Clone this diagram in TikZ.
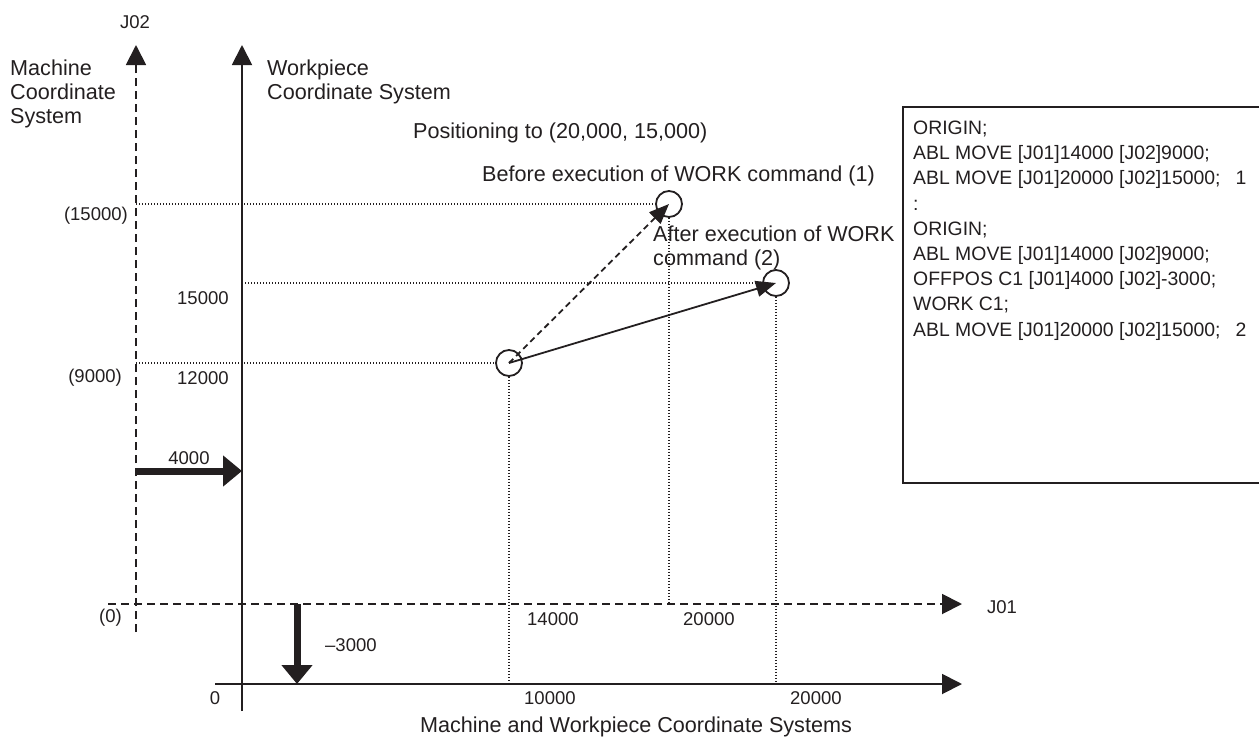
\documentclass[tikz,border=0pt]{standalone}
\usepackage{fontspec}
\setmainfont{Liberation Sans}
\usetikzlibrary{arrows.meta}
\definecolor{ink}{HTML}{231F20}
\begin{document}
\begin{tikzpicture}[x=1pt,y=-1pt,
  lbl/.style={font=\fontsize{21.6}{24}\selectfont, text=ink, inner sep=0pt},
  num/.style={font=\fontsize{18.5}{22}\selectfont, text=ink, inner sep=0pt},
  code/.style={font=\fontsize{19.4}{22}\selectfont, text=ink, inner sep=0pt, anchor=base west},
  axis/.style={line width=1.9pt, draw=ink, -{Triangle[length=20pt,width=20pt]}},
  maxis/.style={axis, dash pattern=on 8pt off 5pt},
  guide/.style={line width=1.1pt, draw=ink, dash pattern=on 1.1pt off 1.9pt},
  shiftarrow/.style={line width=7pt, draw=ink, -{Triangle[length=19pt,width=30pt]}},
  posc/.style={circle, draw=ink, line width=1.8pt, minimum size=26pt, inner sep=0pt},
  move/.style={line width=1.8pt, draw=ink, -{Triangle[length=20pt,width=16pt]}}]
\useasboundingbox (0,0) rectangle (1259,737);

% position circles
\node[posc] (p0) at (509,363) {};
\node[posc] (p1) at (669,204) {};
\node[posc] (p2) at (776,283) {};

% guide lines
\coordinate (g1) at (136,204);
\coordinate (g2) at (242,283);
\coordinate (g3) at (136,363);
\coordinate (g4) at (509,684);
\coordinate (g5) at (669,604);
\coordinate (g6) at (776,684);
\draw[guide] (g1) -- (p1.west);
\draw[guide] (g2) -- (p2.west);
\draw[guide] (g3) -- (p0.west);
\draw[guide] (p0.south) -- (g4);
\draw[guide] (p1.south) -- (g5);
\draw[guide] (p2.south) -- (g6);

% axes
\coordinate (mya) at (136,632); \coordinate (myb) at (136,45);
\coordinate (wya) at (242,711); \coordinate (wyb) at (242,45);
\coordinate (mxa) at (108,604); \coordinate (mxb) at (962,604);
\coordinate (wxa) at (215,684); \coordinate (wxb) at (962,684);
\draw[maxis] (mya) -- (myb);
\draw[axis] (wya) -- (wyb);
\draw[maxis] (mxa) -- (mxb);
\draw[axis] (wxa) -- (wxb);

% offset arrows
\coordinate (s1a) at (136,471); \coordinate (s1b) at (242,471);
\coordinate (s2a) at (297,604); \coordinate (s2b) at (297,684);
\draw[shiftarrow] (s1a) -- (s1b);
\draw[shiftarrow] (s2a) -- (s2b);

% moves
\draw[move, dash pattern=on 6pt off 4pt] (p0.center) -- (p1.center);
\draw[move] (p0.center) -- (p2.center);

% labels
\node[num] (j02) at (135,22) {J02};
\node[num, anchor=west] (j01) at (987,607) {J01};
\node[lbl, anchor=west, align=left] (mcs) at (10,94) {Machine\\Coordinate\\System};
\node[lbl, anchor=west, align=left] (wcs) at (267,82) {Workpiece\\Coordinate System};
\node[lbl, anchor=west] (posi) at (413,133) {Positioning to (20,000, 15,000)};
\node[lbl, anchor=west] (bef) at (482,176) {Before execution of WORK command (1)};
\node[lbl, anchor=west, align=left] (aft) at (653,248) {After execution of WORK\\command (2)};

\node[num, anchor=east] (l15m) at (128,216) {(15000)};
\node[num, anchor=west] (l15w) at (177,298) {15000};
\node[num, anchor=east] (l9m) at (122,378) {(9000)};
\node[num, anchor=west] (l12w) at (177,378) {12000};
\node[num] (l4000) at (189,458) {4000};
\node[num, anchor=east] (l0m) at (122,618) {(0)};
\node[num] (l0w) at (215,698) {0};
\node[num, anchor=west] (l3000) at (325,645) {\textendash3000};
\node[num, anchor=west] (l14m) at (527,619) {14000};
\node[num, anchor=west] (l20m) at (683,619) {20000};
\node[num, anchor=west] (l10w) at (524,698) {10000};
\node[num, anchor=west] (l20w) at (790,698) {20000};
\node[lbl] (cap) at (636,727) {Machine and Workpiece Coordinate Systems};

% program box
\coordinate (b1) at (1259,107); \coordinate (b2) at (903,107);
\coordinate (b3) at (903,483); \coordinate (b4) at (1259,483);
\draw[line width=1.8pt, draw=ink] (b1) -- (b2) -- (b3) -- (b4);
\node[code] (c1) at (913,134.5) {ORIGIN;};
\node[code] (c2) at (913,159.7) {ABL MOVE [J01]14000 [J02]9000;};
\node[code] (c3) at (913,184.9) {ABL MOVE [J01]20000 [J02]15000;\hspace{15pt}1};
\node[code] (c4) at (913,210.1) {:};
\node[code] (c5) at (913,235.3) {ORIGIN;};
\node[code] (c6) at (913,260.5) {ABL MOVE [J01]14000 [J02]9000;};
\node[code] (c7) at (913,285.7) {OFFPOS C1 [J01]4000 [J02]-3000;};
\node[code] (c8) at (913,310.9) {WORK C1;};
\node[code] (c9) at (913,336.1) {ABL MOVE [J01]20000 [J02]15000;\hspace{15pt}2};
\end{tikzpicture}
\end{document}
